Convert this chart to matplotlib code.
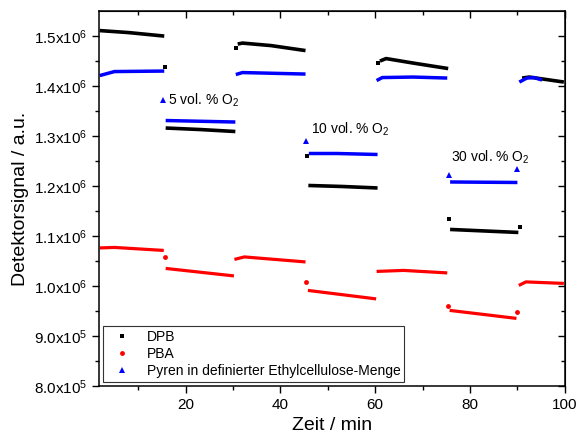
import numpy as np
import matplotlib.pyplot as plt
from matplotlib.lines import Line2D

plt.rcParams['font.family'] = ['Liberation Sans', 'DejaVu Sans']
plt.rcParams['mathtext.default'] = 'regular'

nan = np.nan

# DPB (black) - segments separated by nan
dpb_t = [1.9, 8, 15.5, nan, 15.8, 23, 30.5, nan, 31.0, 32, 38, 45.3, nan,
         45.9, 53, 60.5, nan, 61.0, 62.3, 68, 75.4, nan, 75.8, 83, 90.2, nan,
         91.0, 92.5, 99.8]
dpb_v = [1.511e6, 1.507e6, 1.500e6, nan, 1.316e6, 1.313e6, 1.309e6, nan,
         1.484e6, 1.486e6, 1.481e6, 1.471e6, nan, 1.201e6, 1.199e6, 1.196e6, nan,
         1.450e6, 1.455e6, 1.446e6, 1.435e6, nan, 1.113e6, 1.110e6, 1.107e6, nan,
         1.416e6, 1.418e6, 1.408e6]
dpb_pt_t = [15.7, 30.6, 45.7, 60.6, 75.6, 90.5]
dpb_pt_v = [1.438e6, 1.477e6, 1.260e6, 1.447e6, 1.134e6, 1.118e6]

# PBA (red)
pba_t = [1.9, 5, 15.4, nan, 15.8, 30.2, nan, 30.3, 32.4, 45.3, nan,
         45.8, 60.2, nan, 60.3, 66, 75.2, nan, 75.7, 89.8, nan, 90.3, 91.8, 99.8]
pba_v = [1.076e6, 1.077e6, 1.071e6, nan, 1.035e6, 1.020e6, nan,
         1.053e6, 1.058e6, 1.048e6, nan, 0.991e6, 0.974e6, nan,
         1.029e6, 1.031e6, 1.026e6, nan, 0.951e6, 0.935e6, nan,
         1.001e6, 1.008e6, 1.005e6]
pba_pt_t = [15.6, 45.4, 75.3, 90.0]
pba_pt_v = [1.058e6, 1.007e6, 0.960e6, 0.947e6]

# Pyren (blue)
pyr_t = [1.9, 5, 15.5, nan, 15.8, 30.5, nan, 30.6, 32, 45.3, nan,
         46.0, 52, 60.5, nan, 60.3, 61.5, 68, 75.2, nan, 75.8, 90.0, nan,
         90.4, 92, 93.5, 95.2]
pyr_v = [1.421e6, 1.429e6, 1.430e6, nan, 1.331e6, 1.328e6, nan,
         1.423e6, 1.427e6, 1.424e6, nan, 1.265e6, 1.265e6, 1.263e6, nan,
         1.411e6, 1.417e6, 1.418e6, 1.416e6, nan, 1.208e6, 1.207e6, nan,
         1.408e6, 1.416e6, 1.417e6, 1.412e6]
pyr_pt_t = [15.3, 45.4, 75.5, 89.9]
pyr_pt_v = [1.373e6, 1.291e6, 1.221e6, 1.233e6]

yticks = [8e5, 9e5, 1.0e6, 1.1e6, 1.2e6, 1.3e6, 1.4e6, 1.5e6]
ylabels = ['8.0x10$^5$', '9.0x10$^5$', '1.0x10$^6$', '1.1x10$^6$',
           '1.2x10$^6$', '1.3x10$^6$', '1.4x10$^6$', '1.5x10$^6$']

fig = plt.figure(figsize=(5.79, 4.44), dpi=100)
ax = fig.add_axes([0.1715, 0.131, 0.804, 0.844])

ax.plot(dpb_t, dpb_v, color='black', lw=2.6, solid_capstyle='butt')
ax.plot(pba_t, pba_v, color='red', lw=2.3, solid_capstyle='butt')
ax.plot(pyr_t, pyr_v, color='blue', lw=2.5, solid_capstyle='butt')
ax.plot(dpb_pt_t, dpb_pt_v, 's', color='black', ms=3, mew=0)
ax.plot(pba_pt_t, pba_pt_v, 'o', color='red', ms=3.5, mew=0)
ax.plot(pyr_pt_t, pyr_pt_v, '^', color='blue', ms=4, mew=0)

ax.text(16.3, 1.371e6, '5 vol. % O$_2$', fontsize=10, va='center')
ax.text(46.5, 1.314e6, '10 vol. % O$_2$', fontsize=10, va='center')
ax.text(75.9, 1.258e6, '30 vol. % O$_2$', fontsize=10, va='center')

ax.set_xlim(1.8, 100)
ax.set_ylim(8e5, 1.55e6)
ax.set_xticks([20, 40, 60, 80, 100])
ax.set_xticks([10, 30, 50, 70, 90], minor=True)
ax.set_yticks(yticks)
ax.set_yticklabels(ylabels)
ax.set_yticks(np.arange(8.5e5, 1.55e6, 1e5), minor=True)
ax.tick_params(which='both', direction='out', labelsize=11, width=1)
ax.tick_params(which='major', length=5)
ax.tick_params(which='minor', length=3)
for s in ax.spines.values():
    s.set_linewidth(1.1)

top = ax.secondary_xaxis('top')
top.set_xticks([20, 40, 60, 80, 100])
top.set_xticks([10, 30, 50, 70, 90], minor=True)
top.tick_params(which='both', direction='in', labeltop=False, width=1)
top.tick_params(which='major', length=5)
top.tick_params(which='minor', length=3)
right = ax.secondary_yaxis('right')
right.set_yticks(yticks)
right.set_yticks(np.arange(8.5e5, 1.55e6, 1e5), minor=True)
right.tick_params(which='both', direction='in', labelright=False, width=1)
right.tick_params(which='major', length=5)
right.tick_params(which='minor', length=3)

ax.set_xlabel('Zeit / min', fontsize=14)
ax.set_ylabel('Detektorsignal / a.u.', fontsize=14)

handles = [Line2D([], [], ls='', marker='s', color='black', ms=3, mew=0),
           Line2D([], [], ls='', marker='o', color='red', ms=3.5, mew=0),
           Line2D([], [], ls='', marker='^', color='blue', ms=4, mew=0)]
leg = ax.legend(handles, ['DPB', 'PBA', 'Pyren in definierter Ethylcellulose-Menge'],
                loc='lower left', fontsize=10, fancybox=False, framealpha=1,
                edgecolor='#333333', labelspacing=0.2, borderpad=0.3,
                handletextpad=0.8, borderaxespad=0.3)
leg.get_frame().set_linewidth(0.8)

fig.savefig('out.png', dpi=100)
